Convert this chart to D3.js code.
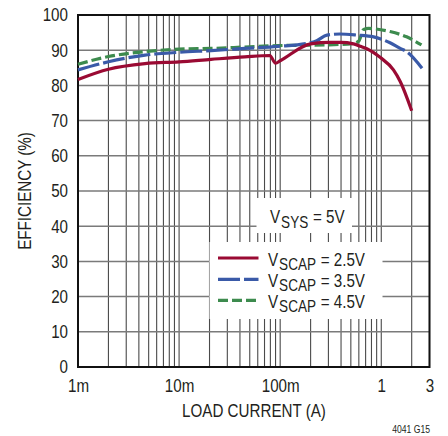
<!DOCTYPE html>
<html>
<head>
<meta charset="utf-8">
<script src="https://cdn.jsdelivr.net/npm/d3@7"></script>
<style>
  html, body { margin: 0; padding: 0; background: #fff; }
  svg { display: block; }
  text { font-family: "Liberation Sans", Arial, sans-serif; fill: #231f20; }
</style>
</head>
<body>
<svg id="chart" width="448" height="436"></svg>
<script>
// ---- data ----
const redI  = [0.001, 0.002, 0.0046, 0.01, 0.0207, 0.0446, 0.079, 0.09, 0.1, 0.2, 0.31, 0.4, 0.53, 0.62, 0.72, 0.98, 1.32, 1.54, 2.0];
const redE  = [81.7, 84.6, 86.2, 86.7, 87.4, 88.1, 88.5, 86.3, 87.0, 91.8, 92.2, 92.2, 91.8, 91.1, 90.4, 87.9, 84.4, 81.1, 72.8];
const blueI = [0.001, 0.002, 0.0046, 0.01, 0.0207, 0.0446, 0.095, 0.183, 0.23, 0.29, 0.39, 0.575, 0.84, 1.22, 1.54, 1.78, 2.53];
const blueE = [84.4, 86.7, 88.6, 89.4, 89.9, 90.5, 91.1, 91.9, 92.7, 94.3, 94.6, 94.3, 93.8, 92.1, 90.5, 89.6, 84.9];
const greenI = [0.001, 0.002, 0.0046, 0.01, 0.0207, 0.0446, 0.095, 0.28, 0.53, 0.6, 0.67, 0.75, 0.84, 1.22, 1.78, 2.5];
const greenE = [86.0, 88.2, 89.6, 90.3, 90.5, 90.9, 91.3, 91.5, 91.9, 92.6, 95.9, 96.2, 96.1, 95.3, 93.8, 91.5];

const xTickValues = [0.001, 0.01, 0.1, 1, 3];
const xTickLabels = ["1m", "10m", "100m", "1", "3"];
const yTickValues = [0, 10, 20, 30, 40, 50, 60, 70, 80, 90, 100];

const seriesNames = ["2.5V", "3.5V", "4.5V"];
const seriesColors = ["#9a0a33", "#3a5aa8", "#3d8b4e"];
const seriesDash = [null, "22,4", "10,4"];

// ---- helpers ----
const SQ = 0.82; // horizontal condensing factor (narrow typeface look)
// condense a text; returns its new (condensed) width
function condense(sel) {
  let last = 0;
  sel.each(function () {
    const w = this.getComputedTextLength();
    last = w * SQ;
    this.setAttribute("textLength", last.toFixed(2));
    this.setAttribute("lengthAdjust", "spacingAndGlyphs");
  });
  return last;
}

// ---- layout ----
const L = 78, R = 429.5, T = 15, B = 367;
const svg = d3.select("#chart");
const x = d3.scaleLog().domain([0.001, 3]).range([L, R]);
const y = d3.scaleLinear().domain([0, 100]).range([B, T]);

// vertical grid at every log minor tick
const vGrid = [];
for (let d = 0.001; d < 3; d *= 10) {
  for (let k = 1; k <= 9; k++) { const v = d * k; if (v <= 3.0001) vGrid.push(v); }
}
svg.append("g").selectAll("line").data(vGrid).join("line")
  .attr("x1", d => x(d)).attr("x2", d => x(d)).attr("y1", T).attr("y2", B)
  .attr("stroke", "#4a4a4a").attr("stroke-width", 1.1);
svg.append("g").selectAll("line").data(yTickValues).join("line")
  .attr("x1", L).attr("x2", R).attr("y1", d => y(d)).attr("y2", d => y(d))
  .attr("stroke", "#7a7a7a").attr("stroke-width", 1.5);

// legend boxes (white, cover grid)
svg.append("rect").attr("x", 256.5).attr("y", 198).attr("width", 95.5).attr("height", 35).attr("fill", "#fff");
svg.append("rect").attr("x", 209.5).attr("y", 242).attr("width", 173).attr("height", 77).attr("fill", "#fff");

// frame
svg.append("rect").attr("x", L).attr("y", T).attr("width", R - L).attr("height", B - T)
  .attr("fill", "none").attr("stroke", "#111").attr("stroke-width", 2);

// curves
const series = [
  redI.map((v, i) => [v, redE[i]]),
  blueI.map((v, i) => [v, blueE[i]]),
  greenI.map((v, i) => [v, greenE[i]])
];
const line = d3.line().x(d => x(d[0])).y(d => y(d[1])).curve(d3.curveMonotoneX);
[2, 1, 0].forEach(i => {
  svg.append("path").attr("d", line(series[i])).attr("fill", "none")
    .attr("stroke", seriesColors[i]).attr("stroke-width", 3.2)
    .attr("stroke-dasharray", seriesDash[i]);
});

// axes
const yAxis = d3.axisLeft(y).tickValues(yTickValues).tickSize(0).tickPadding(10).tickFormat(d3.format("d"));
const gy = svg.append("g").attr("transform", `translate(${L},0)`).call(yAxis);
const xAxis = d3.axisBottom(x).tickValues(xTickValues).tickSize(0).tickPadding(12)
  .tickFormat((d, i) => xTickLabels[i]);
const gx = svg.append("g").attr("transform", `translate(0,${B})`).call(xAxis);
[gy, gx].forEach(g => {
  g.select(".domain").remove();
  g.attr("font-family", null).attr("font-size", null);
  g.selectAll("text").attr("font-size", 18.5).attr("fill", "#231f20");
  condense(g.selectAll("text"));
});

// axis titles
condense(svg.append("text").attr("x", 254).attr("y", 417).attr("text-anchor", "middle")
  .attr("font-size", 18.5).text("LOAD CURRENT (A)"));
condense(svg.append("text").attr("transform", "translate(31,191) rotate(-90)").attr("text-anchor", "middle")
  .attr("font-size", 18.5).text("EFFICIENCY (%)"));
condense(svg.append("text").attr("x", 430).attr("y", 433).attr("text-anchor", "end")
  .attr("font-size", 10.5).text("4041 G15"));

// legend text pieces: main "V", subscript, then "= value"
const SPACE = 18.5 * 0.278 * SQ;
function subLabel(x0, yBase, sub, rest) {
  let cx = x0;
  cx += condense(svg.append("text").attr("x", cx).attr("y", yBase).attr("font-size", 18.5).text("V")) + 1;
  cx += condense(svg.append("text").attr("x", cx).attr("y", yBase + 4.5).attr("font-size", 16.5).text(sub)) + 0.5;
  cx += SPACE;
  condense(svg.append("text").attr("x", cx).attr("y", yBase).attr("font-size", 18.5).text(rest));
}
subLabel(270, 223, "SYS", "= 5V");

const rowY = [258, 279.3, 300.3];
seriesNames.forEach((name, i) => {
  svg.append("line").attr("x1", 218).attr("x2", 258.5).attr("y1", rowY[i]).attr("y2", rowY[i])
    .attr("stroke", seriesColors[i]).attr("stroke-width", 3.2).attr("stroke-dasharray", seriesDash[i]);
  subLabel(268, rowY[i] + 7.5, "SCAP", "= " + name);
});
</script>
</body>
</html>
